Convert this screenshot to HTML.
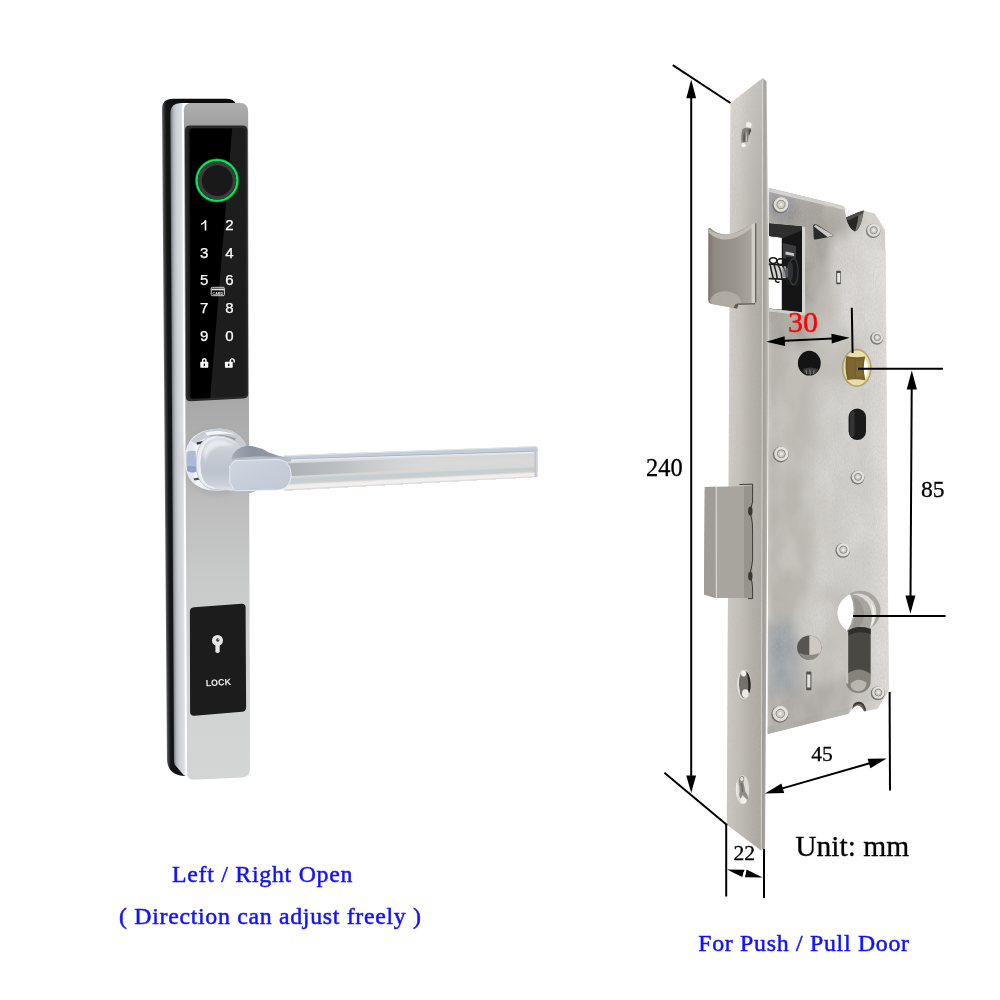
<!DOCTYPE html>
<html>
<head>
<meta charset="utf-8">
<title>Smart Lock</title>
<style>
html,body{margin:0;padding:0;background:#fff;}
body{width:1000px;height:1000px;overflow:hidden;font-family:"Liberation Serif",serif;}
svg{display:block;}
.sans{font-family:"Liberation Sans",sans-serif;}
</style>
</head>
<body>
<svg width="1000" height="1000" viewBox="0 0 1000 1000" style="font-family:'Liberation Serif',serif">
<defs>
  <linearGradient id="chromeSide" gradientUnits="userSpaceOnUse" x1="169.8" y1="0" x2="189.8" y2="0" gradientTransform="matrix(1 0 0.005 1 0 0)">
    <stop offset="0" stop-color="#6e7176"/>
    <stop offset="0.06" stop-color="#8d9096"/>
    <stop offset="0.16" stop-color="#b7babf"/>
    <stop offset="0.3" stop-color="#cdd0d5"/>
    <stop offset="0.5" stop-color="#d8dbdf"/>
    <stop offset="0.6" stop-color="#e6e8eb"/>
    <stop offset="0.66" stop-color="#ffffff"/>
    <stop offset="1" stop-color="#ffffff"/>
  </linearGradient>
  <linearGradient id="plate" x1="0" y1="0" x2="0" y2="1">
    <stop offset="0" stop-color="#afafaf"/>
    <stop offset="0.033" stop-color="#9f9f9f"/>
    <stop offset="0.44" stop-color="#a8a8a8"/>
    <stop offset="0.5" stop-color="#b0b0b0"/>
    <stop offset="0.6" stop-color="#bebebe"/>
    <stop offset="0.7" stop-color="#c8c9c9"/>
    <stop offset="0.8" stop-color="#cfd0d0"/>
    <stop offset="1" stop-color="#d4d5d5"/>
  </linearGradient>
  <linearGradient id="leverBar" x1="0" y1="0" x2="0" y2="1">
    <stop offset="0" stop-color="#b9c0c6"/>
    <stop offset="0.12" stop-color="#dfe3e6"/>
    <stop offset="0.2" stop-color="#a9adb0"/>
    <stop offset="0.45" stop-color="#c4c6c8"/>
    <stop offset="0.75" stop-color="#d0d1d2"/>
    <stop offset="0.9" stop-color="#e6e6e6"/>
    <stop offset="1" stop-color="#c0c0c0"/>
  </linearGradient>

  <linearGradient id="blackBody" gradientUnits="userSpaceOnUse" x1="161.5" y1="0" x2="181.5" y2="0" gradientTransform="matrix(1 0 0.0075 1 0 0)">
    <stop offset="0" stop-color="#6a6c70"/>
    <stop offset="0.06" stop-color="#3e4043"/>
    <stop offset="0.18" stop-color="#151516"/>
    <stop offset="1" stop-color="#0c0c0d"/>
  </linearGradient>
  <linearGradient id="collarOuter" x1="0" y1="0" x2="1" y2="0">
    <stop offset="0" stop-color="#eef0f4"/>
    <stop offset="0.1" stop-color="#dfe5f0"/>
    <stop offset="0.2" stop-color="#f4f6f9"/>
    <stop offset="0.45" stop-color="#e3e6ea"/>
    <stop offset="1" stop-color="#cfd3d9"/>
  </linearGradient>
  <linearGradient id="neck" x1="0" y1="0" x2="0" y2="1">
    <stop offset="0" stop-color="#d9dde3"/>
    <stop offset="0.3" stop-color="#c6ccd4"/>
    <stop offset="0.65" stop-color="#bcc3cc"/>
    <stop offset="0.9" stop-color="#cdd2d9"/>
    <stop offset="1" stop-color="#e4e7eb"/>
  </linearGradient>
  <linearGradient id="leverTop" x1="0" y1="0" x2="1" y2="0">
    <stop offset="0" stop-color="#a3abb6"/>
    <stop offset="0.35" stop-color="#8a929d"/>
    <stop offset="0.7" stop-color="#9099a5"/>
    <stop offset="1" stop-color="#c2cad4"/>
  </linearGradient>
  <linearGradient id="leverFace" x1="0" y1="0" x2="1" y2="1">
    <stop offset="0" stop-color="#d0d6e0"/>
    <stop offset="0.5" stop-color="#c7ced9"/>
    <stop offset="1" stop-color="#c0c8d4"/>
  </linearGradient>

  <linearGradient id="latch" x1="0" y1="0" x2="1" y2="0">
    <stop offset="0" stop-color="#79756d"/>
    <stop offset="0.12" stop-color="#8e8a82"/>
    <stop offset="0.6" stop-color="#9a968e"/>
    <stop offset="1" stop-color="#aeaaa3"/>
  </linearGradient>
  <linearGradient id="latch2" x1="0" y1="0" x2="1" y2="0">
    <stop offset="0" stop-color="#afaba3"/>
    <stop offset="0.8" stop-color="#bfbbb4"/>
    <stop offset="1" stop-color="#cbc8c2"/>
  </linearGradient>
  <linearGradient id="caseG" x1="0" y1="0" x2="1" y2="0">
    <stop offset="0" stop-color="#cac7c1"/>
    <stop offset="0.05" stop-color="#b5b2ac"/>
    <stop offset="0.35" stop-color="#bfbcb6"/>
    <stop offset="0.75" stop-color="#c8c5c0"/>
    <stop offset="1" stop-color="#d3d1cd"/>
  </linearGradient>
  <linearGradient id="faceG" x1="0" y1="0" x2="1" y2="0">
    <stop offset="0" stop-color="#d6d3cd"/>
    <stop offset="0.35" stop-color="#cac6c0"/>
    <stop offset="0.65" stop-color="#b7b3ad"/>
    <stop offset="1" stop-color="#aaa6a0"/>
  </linearGradient>
  <linearGradient id="faceEdge" x1="0" y1="0" x2="1" y2="0">
    <stop offset="0" stop-color="#98948e"/>
    <stop offset="0.6" stop-color="#aba8a2"/>
    <stop offset="1" stop-color="#c6c3be"/>
  </linearGradient>

  <filter id="blur6" x="-20%" y="-20%" width="140%" height="140%"><feGaussianBlur stdDeviation="6"/></filter>
  <clipPath id="caseClip"><path d="M768.8 188 L844 206.3 L846 217.5 Q848 229 855 231.5 Q860 230 863.6 210.6 L874.8 213.4 L885 230.2 L888.8 690 L887.4 693.3 L877.6 708.7 L866.2 711 Q864.5 701.6 858.6 701.8 Q853.4 702.4 852.6 707 L848.9 713.6 L767.7 733.9 Z"/></clipPath>

  <filter id="blur3" x="-30%" y="-30%" width="160%" height="160%"><feGaussianBlur stdDeviation="3"/></filter>
  <filter id="blur1" x="-30%" y="-30%" width="160%" height="160%"><feGaussianBlur stdDeviation="1.2"/></filter>
  <linearGradient id="barShade" x1="0" y1="0" x2="1" y2="0">
    <stop offset="0" stop-color="#a9adb2" stop-opacity="0.95"/>
    <stop offset="0.45" stop-color="#b4b7bb" stop-opacity="0.7"/>
    <stop offset="1" stop-color="#c8c9cb" stop-opacity="0"/>
  </linearGradient>

  <linearGradient id="faceV" x1="0" y1="0" x2="0" y2="1">
    <stop offset="0" stop-color="#ffffff" stop-opacity="0.3"/>
    <stop offset="0.35" stop-color="#a8a49e" stop-opacity="0"/>
    <stop offset="0.6" stop-color="#a8a49e" stop-opacity="0.15"/>
    <stop offset="1" stop-color="#a29e98" stop-opacity="0.22"/>
  </linearGradient>

  <linearGradient id="barEnd" x1="0" y1="0" x2="1" y2="0">
    <stop offset="0" stop-color="#b4bac2"/>
    <stop offset="1" stop-color="#dde0e4"/>
  </linearGradient>

  <clipPath id="barClip"><path d="M284 459.6 L537.6 451.6 L537.6 476.8 L284 490.6 Z"/></clipPath>

  <linearGradient id="hubIn" x1="0" y1="0" x2="1" y2="0">
    <stop offset="0" stop-color="#b09340"/>
    <stop offset="0.3" stop-color="#a88a38"/>
    <stop offset="0.62" stop-color="#a88a38"/>
    <stop offset="0.72" stop-color="#ffffff"/>
    <stop offset="1" stop-color="#ffffff"/>
  </linearGradient>
  <linearGradient id="hubRing" x1="0" y1="0" x2="1" y2="0.6">
    <stop offset="0" stop-color="#c4a84e"/>
    <stop offset="0.5" stop-color="#d2bb62"/>
    <stop offset="1" stop-color="#e6d890"/>
  </linearGradient>
  <linearGradient id="caseRight" x1="0" y1="0" x2="1" y2="0">
    <stop offset="0" stop-color="#dddbd8" stop-opacity="0"/>
    <stop offset="0.5" stop-color="#dddbd8" stop-opacity="0.7"/>
    <stop offset="1" stop-color="#e2e0dd" stop-opacity="0.85"/>
  </linearGradient>
  <filter id="metalNoise" x="0" y="0" width="100%" height="100%">
    <feTurbulence type="fractalNoise" baseFrequency="0.9 0.35" numOctaves="2" seed="7" result="n"/>
    <feColorMatrix type="matrix" values="0 0 0 0 0.5  0 0 0 0 0.48  0 0 0 0 0.45  0.9 0.9 0 0 -0.62"/>
    <feComposite in2="SourceGraphic" operator="in"/>
  </filter>
  <filter id="metalBlotch" x="0" y="0" width="100%" height="100%">
    <feTurbulence type="fractalNoise" baseFrequency="0.035 0.02" numOctaves="3" seed="11" result="n"/>
    <feColorMatrix type="matrix" values="0 0 0 0 1  0 0 0 0 1  0 0 0 0 0.98  1.6 0 0 0 -0.62"/>
    <feComposite in2="SourceGraphic" operator="in"/>
  </filter>
</defs>

<!-- ================= LEFT: handle lock ================= -->
<g id="lock" opacity="0.999">
  <!-- black rear body -->
  <path d="M162 109 Q162 98.7 173 98.7 L226 98.7 Q234 98.7 236 104 L236 770 L184 776 Q168 775 167 760 Z" fill="url(#blackBody)"/>
  <!-- chrome side strip -->
  <path d="M170.3 113 Q170.5 103.2 181 103 L190 103 L190 776 L184 775.5 L175 765 Q174 763 174 760 Z" fill="url(#chromeSide)"/>
  <!-- white highlight edge -->
  <path d="M182.2 108 Q182.6 103.5 186 103 L190 103 L190 778 L185.2 776 Z" fill="#ffffff"/>
  <!-- front plate -->
  <path d="M183.9 110 Q184 103 191 103 L240.5 103 Q248 103 248.1 111.5 L250 769 Q250 777 242 777.6 L194 779.8 Q187.2 780 187.1 773 Z" fill="url(#plate)"/>
  <!-- keypad glass panel -->
  <path d="M184.9 130.5 Q184.9 125.5 190 125.5 L242.5 125.5 Q247.4 125.5 247.5 130.5 L248.2 393.5 Q248.2 398.3 243.5 398.5 L190.7 401.3 Q185.9 401.5 185.8 396.5 Z" fill="#2a2a2b"/>
  <path d="M187.6 131.5 Q187.6 128 191 128 L242 128 Q245.6 128 245.6 131.5 L246.4 392.5 Q246.4 396 243 396.2 L192 398.9 Q188.6 399 188.5 395.5 Z" fill="#1d1d1e"/>
  <!-- pure black reflection area -->
  <path d="M189.6 132 Q189.6 128.6 193 128.6 L232.2 128.6 L210.2 397.9 L193.5 398.7 Q190.5 398.8 190.4 395.5 Z" fill="#000000"/>
  <!-- fingerprint sensor -->
  <circle cx="217" cy="180.4" r="20.4" fill="none" stroke="#00ee55" stroke-width="2.4"/>
  <circle cx="217" cy="180.4" r="21.6" fill="none" stroke="#0a7a33" stroke-width="0.8" opacity="0.7"/>
  <circle cx="217" cy="180.4" r="19.2" fill="#3d3d40"/>
  <circle cx="217.3" cy="180.7" r="15.4" fill="#19191a"/>
  <!-- digits -->
  <g class="sans" fill="#ffffff" stroke="#ffffff" stroke-width="0.25" font-size="15" text-anchor="middle" style="font-family:'Liberation Sans',sans-serif">
    <path d="M206.3 219.9 L206.3 230.6 L204.7 230.6 L204.7 222.7 Q203.2 224.1 201.1 224.9 L201.1 223.4 Q204 222 205.1 219.9 Z" stroke="none"/><text x="229.4" y="229.6">2</text>
    <text x="204.2" y="257.7">3</text><text x="229.4" y="257.5">4</text>
    <text x="204.2" y="285.4">5</text><text x="229.5" y="285.2">6</text>
    <text x="204.2" y="313.4">7</text><text x="229.5" y="313.2">8</text>
    <text x="204.2" y="340.9">9</text><text x="229.5" y="340.7">0</text>
  </g>
  <!-- card icon -->
  <g>
    <rect x="211.2" y="287.3" width="13.2" height="8.4" rx="1.2" fill="none" stroke="#e8e8e8" stroke-width="0.9"/>
    <rect x="211.6" y="288.6" width="12.4" height="1.7" fill="#e8e8e8"/>
    <text x="217.8" y="294.6" font-size="3.6" font-weight="bold" fill="#e8e8e8" text-anchor="middle" style="font-family:'Liberation Sans',sans-serif">CARD</text>
  </g>
  <!-- locked icon -->
  <g fill="#ffffff">
    <rect x="200.3" y="361.8" width="8" height="6" rx="0.7"/>
    <path d="M201.9 362 L201.9 360.6 Q201.9 358 204.3 358 Q206.7 358 206.7 360.6 L206.7 362 L205.3 362 L205.3 360.7 Q205.3 359.4 204.3 359.4 Q203.3 359.4 203.3 360.7 L203.3 362 Z"/>
    <rect x="203.7" y="363.6" width="1.3" height="2.4" fill="#111"/>
  </g>
  <!-- unlocked icon -->
  <g fill="#ffffff">
    <rect x="224.9" y="361.8" width="7.8" height="6" rx="0.7"/>
    <path d="M229.6 362 L229.6 360.8 Q229.6 358.2 232.2 358.2 Q234.9 358.2 234.9 360.8 L234.9 362.6 L233.5 362.6 L233.5 360.9 Q233.5 359.6 232.25 359.6 Q231 359.6 231 360.9 L231 362 Z"/>
    <rect x="228.1" y="363.6" width="1.3" height="2.4" fill="#111"/>
  </g>

  <!-- lower LOCK panel -->
  <path d="M189.9 611.5 Q189.9 607.6 194 607.3 L241.5 603.8 Q245.5 603.5 245.6 607.5 L246.1 707.5 Q246.1 711.5 242 711.8 L194.5 715.8 Q190.2 716 190.1 712 Z" fill="#1c1c1d"/>
  <g>
    <circle cx="217.5" cy="640.4" r="5.5" fill="#e6e6e6"/>
    <rect x="215.4" y="643" width="4.3" height="10" rx="1.8" fill="#e6e6e6"/>
    <circle cx="217.8" cy="640" r="1.7" fill="#3a3a3a"/>
    <circle cx="218.3" cy="639.5" r="0.6" fill="#ddd"/>
  </g>
  <text x="218.3" y="685.6" font-size="8.9" font-weight="bold" fill="#ececec" text-anchor="middle" transform="rotate(-3.5 218.3 682)" style="font-family:'Liberation Sans',sans-serif">LOCK</text>
</g>

<!-- lever handle -->
<g id="lever">
  <!-- soft shadow on plate -->
  <ellipse cx="216" cy="462" rx="33" ry="34" fill="#9a9a9a" opacity="0.35" filter="url(#blur3)"/>
  <!-- rosette collar outer (chrome) -->
  <path d="M219.5 428.4 Q238 429 245.6 444 L246 478 Q236 491.5 214.8 490.8 Q184.5 489 184.8 459 Q185 429.5 219.5 428.4 Z" fill="url(#collarOuter)"/>
  <!-- collar top face -->
  <path d="M219.5 428.4 Q238 429 245.6 444 L240 449 Q232 436.5 216 436 Q203 436.5 196.5 444 L191 441 Q200 429.2 219.5 428.4 Z" fill="#c9cdd3"/>
  <path d="M205 432.5 Q219 428.5 236 434.5 Q222 432.4 207 435.6 Z" fill="#f4f5f7"/>
  <!-- blue reflection on left -->
  <path d="M186.6 452 Q191 450 195.6 451 L196.5 471.5 Q191.5 473.5 187.2 471 Q185.6 461 186.6 452 Z" fill="#aebbd6"/>
  <path d="M186.9 466 L196.4 466.5 L196.5 471.5 Q191.5 473.5 187.2 471 Z" fill="#8fa2c8"/>
  <!-- dark slits -->
  <path d="M196.5 442.6 L204.5 440.6 L204 443 L197 444.8 Z" fill="#33363b"/>
  <path d="M193.4 478.4 L200.4 477.2 L201 479.4 L194.6 480.6 Z" fill="#4a4d52"/>
  <path d="M210 435.5 Q222 433 236 438.5 L234.6 440.2 Q222 435.4 210.6 437.4 Z" fill="#8a9099" opacity="0.8"/>
  <!-- inner ring -->
  <path d="M216 435.6 Q233 436 241 447 L243 486 Q232 491 214.4 489.6 Q195.6 487 196.2 462 Q197 437 216 435.6 Z" fill="#e8ebef"/>
  <path d="M216 435.6 Q233 436 241 447 L243 486 Q232 491 214.4 489.6 Q195.6 487 196.2 462 Q197 437 216 435.6 Z" fill="none" stroke="#b5bbc4" stroke-width="0.7"/>
  <!-- neck cylinder -->
  <path d="M215.5 437.4 Q229 437 241 446.5 L262 452 L262 490 Q240 492.4 214.6 488.4 Q199 485 199.8 462.5 Q200.8 439 215.5 437.4 Z" fill="url(#neck)"/>
  <path d="M215.5 437.4 Q200.8 439 199.8 462.5 Q199 485 214.6 488.4" fill="none" stroke="#f6f7f9" stroke-width="1" opacity="0.9"/>
  <path d="M203 452 Q206 442 216 440 Q226 440 234 446 Q222 444.5 214 448 Q207 452 205 462 Z" fill="#eef0f3" opacity="0.75" filter="url(#blur1)"/>
  <!-- bar top surface -->
  <path d="M284 455.2 L534 446.3 Q537.6 446.5 537.6 449 L537.6 452 L284 460.2 Z" fill="#c3cdd9"/>
  <path d="M284 455.2 L534 446.3 L535.6 447.1 L284 456.2 Z" fill="#e3e8ee"/>
  <path d="M284 458.7 L537.6 450.6 L537.6 452 L284 460 Z" fill="#aab3be"/>
  <!-- bar front face -->
  <g clip-path="url(#barClip)">
  <path d="M282 456.60 L539.6 448.60 L539.6 480.80 L282 494.60 Z" fill="#eaebec"/>
  <path d="M282 460.57 L539.6 452.39 L539.6 480.80 L282 494.60 Z" fill="#e1e2e3"/>
  <path d="M282 461.54 L539.6 453.18 L539.6 480.80 L282 494.60 Z" fill="#dadbdc"/>
  <path d="M282 462.51 L539.6 453.96 L539.6 480.80 L282 494.60 Z" fill="#d6d7d7"/>
  <path d="M282 463.48 L539.6 454.75 L539.6 480.80 L282 494.60 Z" fill="#d6d7d7"/>
  <path d="M282 464.44 L539.6 455.54 L539.6 480.80 L282 494.60 Z" fill="#d7d8d8"/>
  <path d="M282 465.41 L539.6 456.33 L539.6 480.80 L282 494.60 Z" fill="#d7d8d8"/>
  <path d="M282 466.38 L539.6 457.11 L539.6 480.80 L282 494.60 Z" fill="#d8d8d8"/>
  <path d="M282 467.35 L539.6 457.90 L539.6 480.80 L282 494.60 Z" fill="#d8d8d8"/>
  <path d="M282 468.32 L539.6 458.69 L539.6 480.80 L282 494.60 Z" fill="#d8d9d9"/>
  <path d="M282 469.29 L539.6 459.48 L539.6 480.80 L282 494.60 Z" fill="#d9d9d9"/>
  <path d="M282 470.26 L539.6 460.26 L539.6 480.80 L282 494.60 Z" fill="#d9d9d9"/>
  <path d="M282 471.23 L539.6 461.05 L539.6 480.80 L282 494.60 Z" fill="#d8d9d9"/>
  <path d="M282 472.19 L539.6 461.84 L539.6 480.80 L282 494.60 Z" fill="#d8d8d8"/>
  <path d="M282 473.16 L539.6 462.62 L539.6 480.80 L282 494.60 Z" fill="#d8d8d8"/>
  <path d="M282 474.13 L539.6 463.41 L539.6 480.80 L282 494.60 Z" fill="#d7d8d8"/>
  <path d="M282 475.10 L539.6 464.20 L539.6 480.80 L282 494.60 Z" fill="#d7d8d8"/>
  <path d="M282 476.07 L539.6 464.99 L539.6 480.80 L282 494.60 Z" fill="#d6d7d7"/>
  <path d="M282 477.04 L539.6 465.78 L539.6 480.80 L282 494.60 Z" fill="#d6d7d7"/>
  <path d="M282 478.01 L539.6 466.56 L539.6 480.80 L282 494.60 Z" fill="#ced3d4"/>
  <path d="M282 478.98 L539.6 467.35 L539.6 480.80 L282 494.60 Z" fill="#c6ced1"/>
  <path d="M282 479.94 L539.6 468.14 L539.6 480.80 L282 494.60 Z" fill="#c6ced1"/>
  <path d="M282 480.91 L539.6 468.93 L539.6 480.80 L282 494.60 Z" fill="#c7ced1"/>
  <path d="M282 481.88 L539.6 469.71 L539.6 480.80 L282 494.60 Z" fill="#c7cfd2"/>
  <path d="M282 482.85 L539.6 470.50 L539.6 480.80 L282 494.60 Z" fill="#c8cfd2"/>
  <path d="M282 483.82 L539.6 471.29 L539.6 480.80 L282 494.60 Z" fill="#dbd4ca"/>
  <path d="M282 484.79 L539.6 472.07 L539.6 480.80 L282 494.60 Z" fill="#eae7e4"/>
  <path d="M282 485.76 L539.6 472.86 L539.6 480.80 L282 494.60 Z" fill="#efefef"/>
  <path d="M282 486.73 L539.6 473.65 L539.6 480.80 L282 494.60 Z" fill="#efefef"/>
  <path d="M282 487.69 L539.6 474.44 L539.6 480.80 L282 494.60 Z" fill="#f0f0f0"/>
  <path d="M282 488.66 L539.6 475.23 L539.6 480.80 L282 494.60 Z" fill="#eeeeee"/>
  <path d="M282 489.63 L539.6 476.01 L539.6 480.80 L282 494.60 Z" fill="#d7d7d7"/>
  </g>
  <path d="M534.6 451.7 L537.6 451.6 L537.6 476.8 L534.6 476.95 Z" fill="url(#barEnd)"/>
  <path d="M284 463.4 L420 458.6 L420 469.6 L284 476.6 Z" fill="url(#barShade)"/>
  <!-- underside lip -->
  <path d="M232.8 489.5 Q240 494.5 248 493.4 Q254 492.4 258 489.4 Z" fill="#b0b7c1"/>
  <!-- lever top (dark) surface -->
  <path d="M231.6 458.6 Q234.5 447.5 247 445.8 Q258 446 268 452 Q280 457.2 291 457.6 L291 461.4 L234.6 461.2 Z" fill="url(#leverTop)"/>
  <path d="M232.4 458.4 Q248 456 266 456.4 Q280 457 291 457.8 L291 461.4 L234.6 461.2 Z" fill="#b4bcc7"/>
  <!-- lever front flat face -->
  <path d="M234.6 460.6 L278 459.4 Q287 460 290 468 Q292.4 474.6 290 481.4 Q287 489.4 278 490 L235.2 490.8 L229.8 482.6 L229.8 466.2 Z" fill="url(#leverFace)"/>
  <path d="M234.6 460.6 L278 459.4 Q287 460 290 468 Q292.4 474.6 290 481.4 Q287 489.4 278 490 L235.2 490.8 L229.8 482.6 L229.8 466.2 Z" fill="none" stroke="#edf0f4" stroke-width="0.9" opacity="0.95"/>
</g>

<!-- ================= RIGHT: mortise lock ================= -->
<g id="mortise">
  <!-- lock case -->
  <path d="M768.8 188 L844 206.3 L846 217.5 Q848 229 855 231.5 Q860 230 863.6 210.6 L874.8 213.4 L885 230.2 L888.8 690 L887.4 693.3 L877.6 708.7 L866.2 711 Q864.5 701.6 858.6 701.8 Q853.4 702.4 852.6 707 L848.9 713.6 L767.7 733.9 Z" fill="url(#caseG)"/>
  <!-- case tonal blotches -->
  <g clip-path="url(#caseClip)"><g filter="url(#blur6)">
    <path d="M766 186 L848 206 L848 234 L836 252 L822 300 L812 345 L766 345 Z" fill="#a29f99" opacity="0.95"/>
    <path d="M768 190 L796 197 L794 222 L768 220 Z" fill="#85868f" opacity="0.9"/>
    <path d="M830 236 L884 232 L886 330 L840 330 Z" fill="#dedcd9" opacity="0.7"/>
    <path d="M768 345 L800 345 L796 600 L768 600 Z" fill="#b9b6b0" opacity="0.55"/>
    <path d="M815 380 L868 380 L868 590 L815 590 Z" fill="#d9d7d3" opacity="0.6"/>
    <path d="M767 622 L794 622 L798 692 L767 702 Z" fill="#949aa0" opacity="0.95"/>
    <path d="M768 694 L850 676 L850 714 L768 734 Z" fill="#a9a6a1" opacity="0.85"/>
    <path d="M800 600 L838 600 L838 640 L800 640 Z" fill="#d4d2ce" opacity="0.5"/>
  </g></g>
  <path d="M768.8 188 L844 206.3 L844.6 210 L768.8 191.8 Z" fill="#d6d4d0" opacity="0.95"/>
  <path d="M862 250 L886 250 L888.5 690 L864 690 Z" fill="url(#caseRight)"/>
  <path d="M767.7 727 L848.9 707.5 L848.9 713.6 L767.7 733.9 Z" fill="#a9a6a1" opacity="0.8"/>

  <!-- face plate -->
  <path d="M730.5 103 L762.8 78 L761.2 850.4 L726.8 824.8 Z" fill="url(#faceG)"/>
  <path d="M762.8 78 L766.6 81.5 L768.6 300 L765 847.5 L761.2 850.4 Z" fill="url(#faceEdge)"/>
  <path d="M762.4 78.4 L763.4 78.6 L761.8 850 L760.8 850 Z" fill="#e4e2de" opacity="0.8"/>

  <!-- faceplate vertical shading -->
  <path d="M730.5 103 L762.8 78 L761.2 850.4 L726.8 824.8 Z" fill="url(#faceV)"/>
  <!-- metal texture -->
  <path d="M768.8 188 L844 206.3 L846 217.5 Q848 229 855 231.5 Q860 230 863.6 210.6 L874.8 213.4 L885 230.2 L888.8 690 L887.4 693.3 L877.6 708.7 L866.2 711 Q864.5 701.6 858.6 701.8 Q853.4 702.4 852.6 707 L848.9 713.6 L767.7 733.9 Z" fill="#fff" filter="url(#metalBlotch)" opacity="0.32"/>
  <path d="M730.5 103 L762.8 78 L761.2 850.4 L726.8 824.8 Z M768.8 188 L844 206.3 L885 230.2 L888.8 690 L848.9 713.6 L767.7 733.9 Z" fill="#fff" filter="url(#metalNoise)" opacity="0.5"/>
  <!-- latch bolt -->
  <path d="M708.3 229 Q708.2 227.8 710 228 Q726 242.6 751.5 223.8 L755.2 223.2 L755.2 303 L739 303.2 L737 308.5 L712 304 Q708.2 303.5 708.2 300 Z" fill="url(#latch)"/>
  <path d="M708.6 228.4 Q726 243.2 752 224 L752 227.8 Q726 248.6 708.6 232.8 Z" fill="#c6c2bb" opacity="0.85"/>
  <path d="M751.6 224 L755.2 223.2 L755.2 303 L751.6 303.1 Z" fill="#d1cec8"/>
  <path d="M755.2 223.2 L756.3 223.4 L756.3 302 L755.2 303 Z" fill="#55524d"/>
  <path d="M709.5 301 Q714 290 728 291.5 Q741 294 741 303 L737 308.5 L712 304 Z" fill="#b5b1aa" opacity="0.8"/>
  <path d="M739 303.2 L755.2 303 L755.2 304.4 L738.4 305 Z" fill="#6e6b66"/>
  <path d="M735.5 304 L739 303.3 L737 308.6 L733.5 308 Z" fill="#5e5b56"/>

  <!-- dead bolt -->
  <path d="M704.8 487 L752.3 486 L752.3 598 L716 598 L704 594.6 Z" fill="#a8a59e"/>
  <path d="M704.8 487 L715.8 486.8 L716 598 L704 594.6 Z" fill="#a09d96"/>
  <path d="M715.6 486.8 L716.8 486.8 L717 598 L715.8 598 Z" fill="#dbd8d2"/>
  <path d="M744 486.2 L752.3 486 L752.3 598 L744 598 Z" fill="#97948d"/>
  <path d="M739.5 484.5 L752.6 484.2 L752.6 502 Q751 509 749 512 Q752.6 517 752.6 530 L752.6 560 Q751 572 749.2 575 Q752.6 580 752.6 590 L752.6 598.6 L748 598.6" fill="none" stroke="#2f2d2a" stroke-width="0.9"/>
  <ellipse cx="750.3" cy="511" rx="2.2" ry="4.6" fill="#3a3835"/>
  <ellipse cx="750.3" cy="576" rx="2.2" ry="4.6" fill="#3a3835"/>

  <!-- faceplate screw holes -->
  <g>
    <path d="M746 121.6 Q750.8 118.8 753 124 Q753 129.5 750.6 133.5 L750.2 143.5 Q748 149.6 743 148 Q739.6 144.5 740 138 Q740.4 127.5 746 121.6 Z" fill="#c9c5bf"/>
    <path d="M746.6 122.6 Q750.2 120.6 751.8 124.6 Q751 128.6 747.6 129.8 Q744.8 128 746.6 122.6 Z" fill="#f1efeb"/>
    <path d="M742.6 129 Q746.5 126 751.2 128.6 Q748.4 134 747.8 142 L741.6 142.4 Q740.8 134.5 742.6 129 Z" fill="#837f7a"/>
    <path d="M744.4 131 Q745.4 136 745 141.6 L743.2 141.6 Q742.8 136 744.4 131 Z" fill="#5d5a56"/>
    <path d="M746.4 130 L747.2 141.4 L745.8 141.4 Z" fill="#cfccc7"/>
    <path d="M748.4 129.6 Q750.6 128.6 751.4 130 L749 136 Z" fill="#4f4d49"/>
    <circle cx="743.6" cy="145.2" r="2.1" fill="#f5f4f1"/>
    <ellipse cx="742.6" cy="789.7" rx="6.6" ry="14.5" fill="#dedbd6"/>
    <path d="M739.4 777.5 Q741.5 775 743.6 776.6 Q745 779 743.4 782.5 Q744.6 787 745.2 791.5 Q748.5 795.5 748 799 L746 799.6 Q744.4 796 742.4 795 Q741.6 797.5 740.4 798.4 Q738.6 796 739.6 791.5 Q739.4 786.5 738.6 783 Q738 780 739.4 777.5 Z" fill="#8f8b86"/>
    <path d="M741.6 783 Q742.6 787.5 742.6 792" stroke="#5f5c58" stroke-width="0.9" fill="none"/>
    <ellipse cx="741.8" cy="779" rx="1.6" ry="2" fill="#e9e7e3"/>
    <ellipse cx="743.6" cy="800.4" rx="2.8" ry="3" fill="#f1f0ed"/>
    <path d="M736.6 783 Q735.6 790 737.4 797" stroke="#f0eeea" stroke-width="1" fill="none"/>
    <ellipse cx="744.1" cy="684.3" rx="7" ry="14.7" fill="#d9d6d1"/>
    <ellipse cx="744.6" cy="684.3" rx="6" ry="13.6" fill="#74716c"/>
    <path d="M746.5 671.5 Q751.5 678 750.6 688 Q749.6 694 747.6 695.6 Q749.5 684 746.5 671.5 Z" fill="#262624"/>
    <ellipse cx="743.6" cy="673.6" rx="2.6" ry="3" fill="#f0efec"/>
    <ellipse cx="745.4" cy="693.6" rx="3.4" ry="4.4" fill="#eceae6"/>
    <path d="M738.6 678 Q737.4 685 739.4 692" stroke="#e6e4e0" stroke-width="1.3" fill="none"/>
  </g>

  <!-- window with spring -->
  <path d="M769 223.5 L802 226.5 L802 312.3 L769 308.7 Z" fill="#151515"/>
  <path d="M769 236 L781.8 237.6 L781.8 309.7 L769 308.5 Z" fill="#ffffff"/>
  <path d="M769 223.5 L802 226.5 L802 230.5 L783 238 L769 236 Z" fill="#2e2e2e"/>
  <path d="M783 243 L796 246 L796 262 L783 258 Z" fill="#3b3b3d"/>
  <path d="M785.5 251.5 L794 253.2 L794 256 L785.5 254.4 Z" fill="#c9c9c7"/>
  <!-- spring -->
  <path d="M769.5 264.6 L789 266.4 L789 278.6 L769.5 277.8 Z" fill="#d2d2d0"/>
  <g fill="none" stroke="#1b1b1b" stroke-width="1.5" stroke-linecap="round">
    <path d="M770.2 265 Q771.5 272 773.2 278"/>
    <path d="M774.2 265.4 Q776.5 272 777.2 278.2"/>
    <path d="M778.4 265.8 Q781.5 271 781.8 278.4"/>
    <path d="M782.8 266.2 Q786 271 786.6 278.4"/>
    <path d="M769.4 264 L788.5 265.8" stroke-width="1.7"/>
    <path d="M769.4 278.6 L787 279.4" stroke-width="1.9"/>
    <ellipse cx="773.2" cy="260.6" rx="3.6" ry="2.9" stroke-width="1.6"/>
    <ellipse cx="780.6" cy="261.6" rx="3.6" ry="2.9" stroke-width="1.6"/>
    <path d="M775.4 279.6 Q775.6 283 779 282" stroke-width="1.4"/>
  </g>
  <path d="M786 256.5 L799 258.6 L799 287 L786 285 Z" fill="#19191b"/>
  <ellipse cx="793.5" cy="271.6" rx="4.6" ry="13" fill="none" stroke="#3a3c40" stroke-width="1.1"/>
  <ellipse cx="790" cy="271.2" rx="3.2" ry="10" fill="#303236"/>
  <path d="M782.5 267.4 L788 268 L788 277.6 L782.5 277.2 Z" fill="#6e7477" opacity="0.7"/>
  <path d="M802 226.5 L805 227 L805 313 L802 312.3 Z" fill="#d9d7d3"/>
  <path d="M769 308.7 L802 312.3 L805 313 L805 315.4 L769 311.4 Z" fill="#d6d4d0" opacity="0.8"/>
  <!-- triangle slot -->
  <path d="M814.5 224.2 Q813 224.6 813.2 226 L813.8 238.5 Q814 239.8 815.5 239.5 L832 236.5 Q834.3 235.8 832.6 234.5 L817 224.8 Q815.5 224 814.5 224.2 Z" fill="#2a2a2a"/>
  <path d="M816 225 L832.8 234.8 Q833.6 235.6 832 236.2 L827.5 237 L814 226.5 Q814.5 224.6 816 225 Z" fill="#c9c9c8"/>
  <!-- top notch dark -->
  <path d="M846 217.5 L858.5 212.2 L863.6 210.6 Q861 229 855 231.5 Q848.5 229 846 217.5 Z" fill="#262626"/>
  <path d="M859 213.5 L863.6 210.6 Q861 229 855 231.5 Q858 222 859 213.5 Z" fill="#77746f"/>
  <path d="M846 217.5 L858.5 212.2 L863.6 210.6 L863 213.4 L848 220.6 Z" fill="#4e4c49"/>
  <!-- small rect slots -->
  <rect x="836.2" y="270.8" width="4.6" height="13.5" rx="0.8" fill="#4c4a47"/>
  <rect x="837.2" y="273" width="3" height="9.5" fill="#e9e8e6"/>
  <rect x="806.2" y="671.6" width="5.2" height="18.6" rx="0.8" fill="#54524e"/>
  <rect x="807.2" y="674.5" width="3.2" height="13" fill="#e3e2df"/>

  <!-- bottom notch interior -->
  <path d="M852.6 707 Q853.4 702.4 858.6 701.8 Q864.5 701.6 866.2 711 L864 711.6 Q861 705 857 705.6 Q854 706.6 852 709.4 Z" fill="#6d6a65"/>
  <path d="M854.4 706 Q857 703.4 860.6 704 Q863.4 705.6 864.6 710.4 L866.2 711 Q864.5 701.6 858.6 701.8 Q853.4 702.4 852.6 707 Z" fill="#3f3d3a"/>
  <!-- black hole -->
  <ellipse cx="809.3" cy="363.2" rx="11.4" ry="12.4" fill="#141415"/>
  <path d="M803 369 Q810 366 818 369 L817 372.5 Q810 376.5 803.5 372.5 Z" fill="#3a3a3c"/>
  <path d="M806 370 L806.6 374 M810 369.6 L810.3 375 M814 370 L813.6 374" stroke="#8a8a8c" stroke-width="0.9"/>
  <!-- brass hub -->
  <ellipse cx="856.7" cy="367.9" rx="14.9" ry="19.1" fill="#9e9a8c"/>
  <ellipse cx="856.7" cy="367.9" rx="14.2" ry="18.4" fill="#c2ac5c"/>
  <ellipse cx="856.8" cy="367.9" rx="13.2" ry="17.4" fill="#eadfa8"/>
  <path d="M865 358 Q870.6 367.5 865.4 379 Q862.4 368.5 865 358 Z" fill="#ffffff"/>
  <path d="M846.4 356 Q855 358.4 865.2 356.6 Q862.2 368 865.4 380.2 Q855 378.4 847.4 380 Q844.2 368 846.4 356 Z" fill="#745f2d"/>
  <path d="M848 358.4 Q851.6 359.2 854.6 359.2 L855 378.4 Q851.6 378.6 848.8 379 Q846.4 368 848 358.4 Z" fill="#7c6733"/>
  <path d="M855.6 361 L862.6 360.6 Q861.4 368 862.8 377.6 L856 377.4 Z" fill="#836d36" opacity="0.8"/>
  <!-- oblong hole -->
  <rect x="848.6" y="408.4" width="17.4" height="31.6" rx="8.7" fill="#1a1a1b"/>
  <rect x="850" y="411" width="4.6" height="26" rx="2.3" fill="#343436"/>
  <!-- euro cylinder hole -->
  <path d="M846 629.4 A20 20 0 1 1 871 627.8 L870.6 682 A12.3 11 0 0 1 846 682 Z" fill="#ffffff"/>
  <path d="M850 593.6 A20 20 0 0 1 871 627.8 L870.6 682 A12.3 11 0 0 1 846 682 L846 632 Q848 629.5 850.5 625 Q857 610 850 593.6 Z" fill="#a8a59f"/>
  <path d="M852 594 Q866 591.5 873.5 602 Q879.5 613 873 625 L869.5 629 Q874 616 869.5 606 Q864.5 596 852 594 Z" fill="#dad8d4"/>
  <path d="M871 602 Q877.5 613 872.5 624 L870.8 626 Q874.5 614 871 602 Z" fill="#f4f3f1"/>
  <path d="M853 597 Q862 600 864 612 Q864.5 622 858 629 L851.5 628 Q858 612 853 597 Z" fill="#8d8a84" opacity="0.55"/>
  <path d="M847.5 631 Q858 624 870.6 629 L870.6 676 Q860 668 847.5 676 Z" fill="#4a4843"/>
  <path d="M847.5 631 Q858 624 870.6 629 L870.6 634 Q858 629.5 847.5 636 Z" fill="#2f2e2b"/>
  <path d="M847 674 Q859 665 870.6 674 L870.6 682 A12.3 11 0 0 1 846 682 Z" fill="#85827c"/>
  <path d="M850.5 684 Q857.5 676.5 866.5 682.5 Q866.5 690.4 858.6 691.4 Q850.5 691 850.5 684 Z" fill="#b9b6b0"/>
  <path d="M846 632 L848.2 631 L848.2 684 Q846 684 846 682 Z" fill="#c9c6c0"/>
  <!-- round hole half -->
  <circle cx="809.3" cy="647.6" r="12.2" fill="#575550"/>
  <path d="M809.3 635.4 A12.2 12.2 0 0 1 809.3 659.8 Z" fill="#cdc9c2"/>
  <path d="M799 653 Q809 657 819.5 653 Q816 660 809.3 659.8 Q802.5 660 799 653 Z" fill="#8b8882"/>

  <!-- screws -->
  <circle cx="780.5" cy="205.2" r="8.1" fill="#5b5955" opacity="0.75"/>
  <circle cx="781" cy="204.5" r="7.4" fill="#dcdad5"/>
  <circle cx="781.8" cy="203.9" r="6.2" fill="#e6e4e0" opacity="0.8"/>
  <circle cx="781" cy="204.5" r="4.1" fill="#cfccc6" stroke="#8f8c86" stroke-width="1"/>
  <circle cx="781" cy="204.5" r="1.6" fill="#e9e8e4"/>
  <circle cx="873.2" cy="230.89999999999998" r="7.2" fill="#5b5955" opacity="0.75"/>
  <circle cx="873.7" cy="230.2" r="6.5" fill="#dcdad5"/>
  <circle cx="874.5" cy="229.6" r="5.3" fill="#e6e4e0" opacity="0.8"/>
  <circle cx="873.7" cy="230.2" r="3.6" fill="#cfccc6" stroke="#8f8c86" stroke-width="1"/>
  <circle cx="873.7" cy="230.2" r="1.4" fill="#e9e8e4"/>
  <circle cx="876.8" cy="338.2" r="6.5" fill="#5b5955" opacity="0.75"/>
  <circle cx="877.3" cy="337.5" r="5.8" fill="#dcdad5"/>
  <circle cx="878.0999999999999" cy="336.9" r="4.6" fill="#e6e4e0" opacity="0.8"/>
  <circle cx="877.3" cy="337.5" r="3.2" fill="#cfccc6" stroke="#8f8c86" stroke-width="1"/>
  <circle cx="877.3" cy="337.5" r="1.3" fill="#e9e8e4"/>
  <circle cx="780.8" cy="454.5" r="7.9" fill="#5b5955" opacity="0.75"/>
  <circle cx="781.3" cy="453.8" r="7.2" fill="#dcdad5"/>
  <circle cx="782.0999999999999" cy="453.2" r="6.0" fill="#e6e4e0" opacity="0.8"/>
  <circle cx="781.3" cy="453.8" r="4.0" fill="#cfccc6" stroke="#8f8c86" stroke-width="1"/>
  <circle cx="781.3" cy="453.8" r="1.6" fill="#e9e8e4"/>
  <circle cx="857.5" cy="477.59999999999997" r="7.0" fill="#5b5955" opacity="0.75"/>
  <circle cx="858" cy="476.9" r="6.3" fill="#dcdad5"/>
  <circle cx="858.8" cy="476.29999999999995" r="5.1" fill="#e6e4e0" opacity="0.8"/>
  <circle cx="858" cy="476.9" r="3.5" fill="#cfccc6" stroke="#8f8c86" stroke-width="1"/>
  <circle cx="858" cy="476.9" r="1.4" fill="#e9e8e4"/>
  <circle cx="842.8" cy="550.4000000000001" r="7.4" fill="#5b5955" opacity="0.75"/>
  <circle cx="843.3" cy="549.7" r="6.7" fill="#dcdad5"/>
  <circle cx="844.0999999999999" cy="549.1" r="5.5" fill="#e6e4e0" opacity="0.8"/>
  <circle cx="843.3" cy="549.7" r="3.7" fill="#cfccc6" stroke="#8f8c86" stroke-width="1"/>
  <circle cx="843.3" cy="549.7" r="1.5" fill="#e9e8e4"/>
  <circle cx="877.8" cy="693.2" r="7.0" fill="#5b5955" opacity="0.75"/>
  <circle cx="878.3" cy="692.5" r="6.3" fill="#dcdad5"/>
  <circle cx="879.0999999999999" cy="691.9" r="5.1" fill="#e6e4e0" opacity="0.8"/>
  <circle cx="878.3" cy="692.5" r="3.5" fill="#cfccc6" stroke="#8f8c86" stroke-width="1"/>
  <circle cx="878.3" cy="692.5" r="1.4" fill="#e9e8e4"/>
  <circle cx="779.8" cy="714.3000000000001" r="8.5" fill="#5b5955" opacity="0.75"/>
  <circle cx="780.3" cy="713.6" r="7.8" fill="#dcdad5"/>
  <circle cx="781.0999999999999" cy="713.0" r="6.6" fill="#e6e4e0" opacity="0.8"/>
  <circle cx="780.3" cy="713.6" r="4.3" fill="#cfccc6" stroke="#8f8c86" stroke-width="1"/>
  <circle cx="780.3" cy="713.6" r="1.7" fill="#e9e8e4"/>
</g>

<!-- ================= dimension annotations ================= -->
<g id="dims" stroke="#000" stroke-width="2" fill="#000" stroke-linecap="butt">
  <!-- 240 -->
  <line x1="672.8" y1="65.2" x2="730.4" y2="103"/>
  <line x1="664.4" y1="772.8" x2="727" y2="825"/>
  <line x1="691.2" y1="96" x2="691.2" y2="778"/>
  <path d="M691.2 79.4 L696.1 98.2 L686.3 98.2 Z" stroke="none"/>
  <path d="M691.2 793 L696.1 775.4 L686.3 775.4 Z" stroke="none"/>
  <!-- 22 -->
  <line x1="726.2" y1="824" x2="726.2" y2="896.5"/>
  <line x1="764" y1="848.8" x2="764" y2="898"/>
  <path d="M727 869.4 L744.6 869.8 L742.2 877 Z" stroke="none"/>
  <path d="M762.6 877.4 L745 877.2 L746.6 869.6 Z" stroke="none"/>
  <ellipse cx="744.4" cy="873.4" rx="1.1" ry="2.6" fill="#fff" stroke="none" transform="rotate(15 744.4 873.4)"/>
  <!-- 30 -->
  <line x1="780" y1="341" x2="838" y2="338.3"/>
  <path d="M766.3 341.7 L784.6 336.3 L785 346 Z" stroke="none"/>
  <path d="M849.6 337.8 L831.4 333.8 L831.8 343.5 Z" stroke="none"/>
  <line x1="851.8" y1="307.7" x2="852.6" y2="353"/>
  <!-- 85 -->
  <line x1="858" y1="368.8" x2="943" y2="368.8"/>
  <line x1="853" y1="615.9" x2="945.6" y2="615.9"/>
  <line x1="911.7" y1="388" x2="910.5" y2="597"/>
  <path d="M911.8 370.4 L916.9 389.6 L906.7 389.6 Z" stroke="none"/>
  <path d="M910.4 613.8 L915.4 595.4 L905.4 595.4 Z" stroke="none"/>
  <!-- 45 -->
  <line x1="889.6" y1="691.9" x2="890" y2="790.6"/>
  <line x1="778" y1="789.6" x2="874" y2="762"/>
  <path d="M764.9 793.4 L781.4 783.6 L784.2 793 Z" stroke="none"/>
  <path d="M886.7 758.4 L870.4 768.2 L867.6 758.8 Z" stroke="none"/>
</g>
<g id="labels" fill="#000" stroke="#000" stroke-width="0.3" opacity="0.999">
  <text x="646" y="476.2" font-size="24.4">240</text>
  <text x="920.9" y="497.2" font-size="23.6">85</text>
  <text x="811.2" y="761.4" font-size="21.6">45</text>
  <text x="733.4" y="860.2" font-size="21.6">22</text>
  <text x="788" y="332.4" font-size="30" fill="#ff0000" stroke="#ff0000" stroke-width="0.4">30</text>
  <text x="795.2" y="856" font-size="30.4" textLength="114" lengthAdjust="spacingAndGlyphs">Unit: mm</text>
</g>
<g id="captions" opacity="0.999" fill="#1212ff" stroke="#1212ff" stroke-width="0.5" font-size="23.8">
  <text x="172" y="882.2" textLength="180.4" lengthAdjust="spacing">Left / Right Open</text>
  <text x="119" y="924" textLength="302" lengthAdjust="spacing">( Direction can adjust freely )</text>
  <text x="698.2" y="951.2" textLength="210.8" lengthAdjust="spacing">For Push / Pull Door</text>
</g>

</svg>
</body>
</html>
